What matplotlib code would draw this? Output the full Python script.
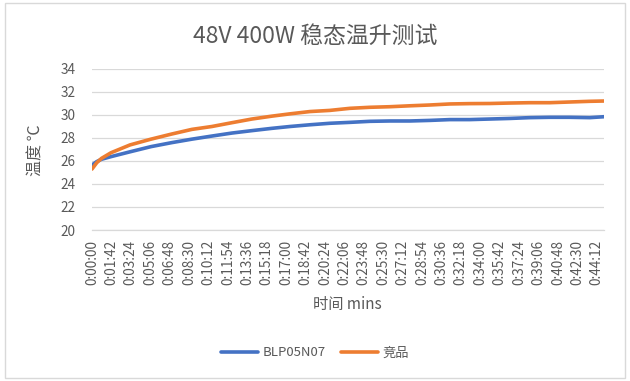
import matplotlib
matplotlib.use("Agg")
import matplotlib.pyplot as plt
from matplotlib.patches import Rectangle

plt.rcParams['font.family'] = ['Noto Sans CJK SC', 'DejaVu Sans']

title = "48V 400W 稳态温升测试"
series_names = ["BLP05N07", "竞品"]
# time in seconds
time_s = [0, 25, 50, 100, 200, 310, 420, 525, 630, 735, 840, 945, 1040, 1145,
          1250, 1355, 1460, 1565, 1670, 1775, 1880, 1985, 2090, 2195, 2300,
          2405, 2510, 2615, 2700]
blp = [25.65, 25.95, 26.15, 26.38, 26.8, 27.25, 27.6, 27.9, 28.17, 28.43,
       28.64, 28.84, 29.0, 29.15, 29.28, 29.36, 29.45, 29.48, 29.48, 29.53,
       29.6, 29.6, 29.65, 29.7, 29.77, 29.8, 29.8, 29.77, 29.86]
comp = [25.3, 25.85, 26.23, 26.72, 27.4, 27.9, 28.35, 28.75, 29.0, 29.33,
        29.65, 29.9, 30.1, 30.3, 30.4, 30.58, 30.67, 30.72, 30.8, 30.87,
        30.96, 30.99, 31.0, 31.04, 31.07, 31.07, 31.13, 31.19, 31.22]
tick_step_s = 102
n_ticks = 27
yticks = [20, 22, 24, 26, 28, 30, 32, 34]

def fmt(s):
    return f"{s // 3600}:{(s % 3600) // 60:02d}:{s % 60:02d}"

xtick_pos = [i * tick_step_s for i in range(n_ticks)]
xtick_labels = [fmt(s) for s in xtick_pos]

W, H = 630, 381
fig = plt.figure(figsize=(W / 100, H / 100), dpi=100)
ax = fig.add_axes([92 / W, 1 - 230 / H, (604 - 92) / W, (230 - 69) / H])

blue = "#4472C4"
orange = "#ED7D31"
txt = "#595959"
grid = "#D9D9D9"

ax.plot(time_s, blp, color=blue, lw=2.6, label=series_names[0], solid_capstyle='round')
ax.plot(time_s, comp, color=orange, lw=2.6, label=series_names[1], solid_capstyle='round')

ax.set_xlim(0, 2690)
ax.set_ylim(20, 34)
ax.set_yticks(yticks)
ax.set_xticks(xtick_pos)
ax.set_xticklabels(xtick_labels, rotation=90)
ax.tick_params(axis='both', length=0, colors=txt, labelsize=9.8)
ax.tick_params(axis='x', pad=7)
ax.tick_params(axis='y', pad=12)
ax.yaxis.grid(True, color=grid, lw=0.9)
ax.set_axisbelow(True)
for side in ['top', 'right', 'left']:
    ax.spines[side].set_visible(False)
ax.spines['bottom'].set_color(grid)
ax.spines['bottom'].set_linewidth(0.9)

fig.text(315 / W, 1 - 36 / H, title, ha='center', va='center', fontsize=16.5, color=txt)
fig.text(36 / W, 1 - 150 / H, "温度 ℃", ha='center', va='center', rotation=90,
         fontsize=11.5, color=txt)
fig.text(347 / W, 1 - 305 / H, "时间 mins", ha='center', va='center', fontsize=11, color=txt)

fig.legend(loc='center', bbox_to_anchor=(315 / W, 1 - 353 / H), ncol=2, frameon=False,
           fontsize=9.5, labelcolor=txt, handlelength=2.8, handletextpad=0.3,
           columnspacing=1.2)

fig.patches.append(Rectangle((5 / W, 3 / H), 620 / W, 375 / H, transform=fig.transFigure,
                             fill=False, edgecolor=grid, lw=1))

fig.savefig("out.png", dpi=100)
